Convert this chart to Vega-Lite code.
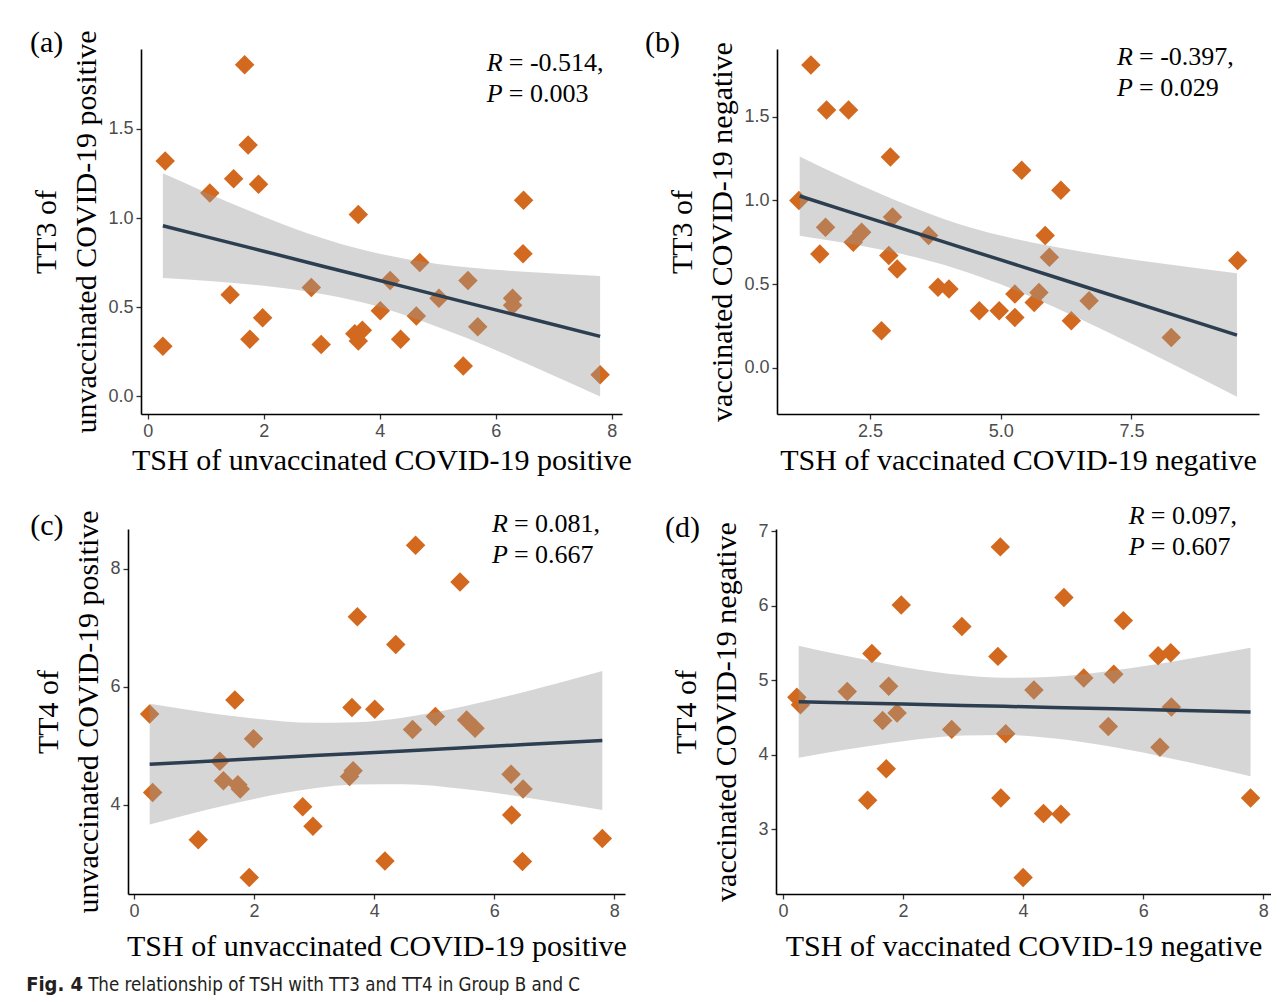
{
  "$schema": "https://vega.github.io/schema/vega-lite/v6.json",
  "background": "white",
  "padding": {"left": 26, "top": 28, "right": 0, "bottom": 0},
  "config": {
    "view": {"stroke": null},
    "axis": {"grid": false, "domainColor": "#000000", "domainWidth": 1.6, "tickColor": "#333333", "tickWidth": 1.3, "tickSize": 5, "labelFont": "Liberation Sans", "labelFontSize": 18, "labelColor": "#4D4D4D", "labelPadding": 3, "titleFont": "Liberation Serif", "titleFontSize": 30, "titleFontWeight": "normal", "titleColor": "#000000", "titleLineHeight": 40},
    "axisY": {"titlePadding": 6}
  },
  "datasets": {
    "ptsA": [
      {"tsh": 1.67, "tt": 1.86}, {"tsh": 1.73, "tt": 1.41}, {"tsh": 0.30, "tt": 1.32}, {"tsh": 1.48, "tt": 1.22}, {"tsh": 1.91, "tt": 1.19},
      {"tsh": 1.07, "tt": 1.14}, {"tsh": 3.63, "tt": 1.02}, {"tsh": 6.48, "tt": 1.10}, {"tsh": 6.47, "tt": 0.80}, {"tsh": 4.69, "tt": 0.75},
      {"tsh": 4.18, "tt": 0.65}, {"tsh": 2.82, "tt": 0.61}, {"tsh": 1.42, "tt": 0.57}, {"tsh": 5.52, "tt": 0.65}, {"tsh": 5.02, "tt": 0.55},
      {"tsh": 6.29, "tt": 0.55}, {"tsh": 6.29, "tt": 0.51}, {"tsh": 4.01, "tt": 0.48}, {"tsh": 1.98, "tt": 0.44}, {"tsh": 4.63, "tt": 0.45},
      {"tsh": 5.69, "tt": 0.39}, {"tsh": 3.70, "tt": 0.37}, {"tsh": 3.57, "tt": 0.35}, {"tsh": 3.63, "tt": 0.31}, {"tsh": 1.76, "tt": 0.32},
      {"tsh": 4.36, "tt": 0.32}, {"tsh": 2.99, "tt": 0.29}, {"tsh": 0.26, "tt": 0.28}, {"tsh": 5.44, "tt": 0.17}, {"tsh": 7.80, "tt": 0.12}
    ],
    "fitA": [
      {"tsh": 0.26, "fit": 0.957, "lo": 0.663, "hi": 1.251}, {"tsh": 1.0, "fit": 0.896, "lo": 0.648, "hi": 1.144},
      {"tsh": 2.0, "fit": 0.814, "lo": 0.620, "hi": 1.008}, {"tsh": 3.0, "fit": 0.731, "lo": 0.574, "hi": 0.888},
      {"tsh": 3.69, "fit": 0.675, "lo": 0.527, "hi": 0.823}, {"tsh": 4.5, "fit": 0.608, "lo": 0.448, "hi": 0.768},
      {"tsh": 5.5, "fit": 0.525, "lo": 0.326, "hi": 0.724}, {"tsh": 6.5, "fit": 0.443, "lo": 0.188, "hi": 0.698},
      {"tsh": 7.8, "fit": 0.336, "lo": -0.002, "hi": 0.674}
    ],
    "annA": [
      {"tsh": 5.845, "tt": 1.826, "sym": "R", "txt": "= -0.514,"},
      {"tsh": 5.845, "tt": 1.652, "sym": "P", "txt": "= 0.003"}
    ],
    "labA": [{"tsh": -2.03, "tt": 1.932, "lab": "(a)"}],
    "ptsB": [
      {"tsh": 1.37, "tt": 1.81}, {"tsh": 1.67, "tt": 1.54}, {"tsh": 2.09, "tt": 1.54}, {"tsh": 2.89, "tt": 1.26}, {"tsh": 5.40, "tt": 1.18},
      {"tsh": 6.15, "tt": 1.06}, {"tsh": 1.14, "tt": 1.00}, {"tsh": 2.93, "tt": 0.90}, {"tsh": 1.65, "tt": 0.84}, {"tsh": 2.18, "tt": 0.75},
      {"tsh": 2.34, "tt": 0.81}, {"tsh": 3.62, "tt": 0.79}, {"tsh": 5.85, "tt": 0.79}, {"tsh": 1.54, "tt": 0.68}, {"tsh": 2.86, "tt": 0.67},
      {"tsh": 5.93, "tt": 0.66}, {"tsh": 3.02, "tt": 0.59}, {"tsh": 3.80, "tt": 0.48}, {"tsh": 4.01, "tt": 0.47}, {"tsh": 5.27, "tt": 0.44},
      {"tsh": 5.73, "tt": 0.45}, {"tsh": 5.64, "tt": 0.39}, {"tsh": 6.69, "tt": 0.40}, {"tsh": 4.59, "tt": 0.34}, {"tsh": 4.97, "tt": 0.34},
      {"tsh": 5.27, "tt": 0.30}, {"tsh": 6.35, "tt": 0.28}, {"tsh": 2.72, "tt": 0.22}, {"tsh": 8.26, "tt": 0.18}, {"tsh": 9.53, "tt": 0.64}
    ],
    "fitB": [
      {"tsh": 1.156, "fit": 1.026, "lo": 0.789, "hi": 1.263}, {"tsh": 2.0, "fit": 0.942, "lo": 0.747, "hi": 1.137},
      {"tsh": 3.0, "fit": 0.843, "lo": 0.687, "hi": 0.999}, {"tsh": 4.18, "fit": 0.725, "lo": 0.589, "hi": 0.861},
      {"tsh": 5.0, "fit": 0.644, "lo": 0.498, "hi": 0.790}, {"tsh": 6.0, "fit": 0.545, "lo": 0.366, "hi": 0.724},
      {"tsh": 7.0, "fit": 0.445, "lo": 0.219, "hi": 0.671}, {"tsh": 8.3, "fit": 0.316, "lo": 0.019, "hi": 0.613},
      {"tsh": 9.517, "fit": 0.195, "lo": -0.174, "hi": 0.564}
    ],
    "annB": [
      {"tsh": 7.223, "tt": 1.809, "sym": "R", "txt": "= -0.397,"},
      {"tsh": 7.223, "tt": 1.624, "sym": "P", "txt": "= 0.029"}
    ],
    "labB": [{"tsh": -1.802, "tt": 1.887, "lab": "(b)"}],
    "ptsC": [
      {"tsh": 4.69, "tt": 8.40}, {"tsh": 5.43, "tt": 7.78}, {"tsh": 3.72, "tt": 7.19}, {"tsh": 4.36, "tt": 6.72}, {"tsh": 1.68, "tt": 5.78},
      {"tsh": 3.63, "tt": 5.65}, {"tsh": 4.01, "tt": 5.62}, {"tsh": 0.26, "tt": 5.54}, {"tsh": 5.02, "tt": 5.50}, {"tsh": 5.54, "tt": 5.44},
      {"tsh": 5.68, "tt": 5.30}, {"tsh": 4.64, "tt": 5.28}, {"tsh": 1.99, "tt": 5.12}, {"tsh": 1.43, "tt": 4.74}, {"tsh": 3.65, "tt": 4.58},
      {"tsh": 3.59, "tt": 4.48}, {"tsh": 6.28, "tt": 4.52}, {"tsh": 1.49, "tt": 4.41}, {"tsh": 1.73, "tt": 4.34}, {"tsh": 1.77, "tt": 4.27},
      {"tsh": 0.31, "tt": 4.21}, {"tsh": 6.48, "tt": 4.27}, {"tsh": 2.81, "tt": 3.97}, {"tsh": 6.29, "tt": 3.83}, {"tsh": 2.98, "tt": 3.64},
      {"tsh": 1.07, "tt": 3.41}, {"tsh": 7.80, "tt": 3.43}, {"tsh": 4.18, "tt": 3.05}, {"tsh": 6.47, "tt": 3.04}, {"tsh": 1.92, "tt": 2.77}
    ],
    "fitC": [
      {"tsh": 0.261, "fit": 4.690, "lo": 3.666, "hi": 5.714}, {"tsh": 1.0, "fit": 4.729, "lo": 3.862, "hi": 5.596},
      {"tsh": 2.0, "fit": 4.783, "lo": 4.101, "hi": 5.465}, {"tsh": 3.0, "fit": 4.836, "lo": 4.281, "hi": 5.391},
      {"tsh": 3.69, "fit": 4.873, "lo": 4.347, "hi": 5.400}, {"tsh": 4.5, "fit": 4.916, "lo": 4.350, "hi": 5.482},
      {"tsh": 5.5, "fit": 4.969, "lo": 4.268, "hi": 5.671}, {"tsh": 6.5, "fit": 5.023, "lo": 4.131, "hi": 5.915},
      {"tsh": 7.8, "fit": 5.092, "lo": 3.915, "hi": 6.269}
    ],
    "annC": [
      {"tsh": 5.962, "tt": 8.626, "sym": "R", "txt": "= 0.081,"},
      {"tsh": 5.962, "tt": 8.101, "sym": "P", "txt": "= 0.667"}
    ],
    "labC": [{"tsh": -1.73, "tt": 8.574, "lab": "(c)"}],
    "ptsD": [
      {"tsh": 3.62, "tt": 6.79}, {"tsh": 4.68, "tt": 6.11}, {"tsh": 1.97, "tt": 6.01}, {"tsh": 5.67, "tt": 5.80}, {"tsh": 2.98, "tt": 5.72},
      {"tsh": 1.48, "tt": 5.36}, {"tsh": 3.58, "tt": 5.32}, {"tsh": 6.25, "tt": 5.33}, {"tsh": 6.46, "tt": 5.37}, {"tsh": 5.51, "tt": 5.08},
      {"tsh": 5.01, "tt": 5.03}, {"tsh": 1.76, "tt": 4.92}, {"tsh": 1.07, "tt": 4.85}, {"tsh": 4.18, "tt": 4.87}, {"tsh": 0.23, "tt": 4.77},
      {"tsh": 0.29, "tt": 4.67}, {"tsh": 6.47, "tt": 4.64}, {"tsh": 1.90, "tt": 4.56}, {"tsh": 1.66, "tt": 4.46}, {"tsh": 5.42, "tt": 4.38},
      {"tsh": 2.81, "tt": 4.34}, {"tsh": 3.71, "tt": 4.28}, {"tsh": 6.28, "tt": 4.10}, {"tsh": 1.72, "tt": 3.81}, {"tsh": 1.41, "tt": 3.39},
      {"tsh": 3.63, "tt": 3.42}, {"tsh": 7.79, "tt": 3.42}, {"tsh": 4.34, "tt": 3.21}, {"tsh": 4.63, "tt": 3.20}, {"tsh": 4.00, "tt": 2.35}
    ],
    "fitD": [
      {"tsh": 0.261, "fit": 4.712, "lo": 3.960, "hi": 5.464}, {"tsh": 1.0, "fit": 4.698, "lo": 4.062, "hi": 5.334},
      {"tsh": 2.0, "fit": 4.680, "lo": 4.181, "hi": 5.179}, {"tsh": 3.0, "fit": 4.662, "lo": 4.257, "hi": 5.067},
      {"tsh": 3.69, "fit": 4.649, "lo": 4.266, "hi": 5.033}, {"tsh": 4.5, "fit": 4.634, "lo": 4.221, "hi": 5.047},
      {"tsh": 5.5, "fit": 4.616, "lo": 4.102, "hi": 5.130}, {"tsh": 6.5, "fit": 4.598, "lo": 3.944, "hi": 5.252},
      {"tsh": 7.789, "fit": 4.574, "lo": 3.711, "hi": 5.437}
    ],
    "annD": [
      {"tsh": 5.762, "tt": 7.098, "sym": "R", "txt": "= 0.097,"},
      {"tsh": 5.762, "tt": 6.683, "sym": "P", "txt": "= 0.607"}
    ],
    "labD": [{"tsh": -1.966, "tt": 6.922, "lab": "(d)"}]
  },
  "title": {"text": "The relationship of TSH with TT3 and TT4 in Group B and C", "orient": "bottom", "anchor": "start", "frame": "bounds", "font": "Liberation Sans Narrow, DejaVu Sans Condensed, sans-serif", "fontSize": 18.6, "fontWeight": "normal", "color": "#231F20", "baseline": "top", "dx": 62, "dy": -19, "offset": 0},
  "columns": 1,
  "align": "none",
  "spacing": 27,
  "concat": [
    {
      "spacing": 12,
      "hconcat": [
        {
          "width": 494, "height": 365,
          "layer": [
            {"data": {"name": "ptsA"}, "mark": {"type": "point", "shape": "diamond", "filled": true, "size": 380, "color": "#D2691E", "opacity": 1},
             "encoding": {
               "x": {"field": "tsh", "type": "quantitative", "scale": {"domain": [-0.117, 8.177], "range": [13, 494], "nice": false, "zero": false}, "axis": {"values": [0, 2, 4, 6, 8], "format": "d", "titlePadding": 5, "title": "TSH of unvaccinated COVID-19 positive"}},
               "y": {"field": "tt", "type": "quantitative", "scale": {"domain": [-0.1, 1.949], "nice": false, "zero": false}, "axis": {"values": [0, 0.5, 1, 1.5], "format": ".1f", "offset": -13, "title": ["TT3 of", "unvaccinated COVID-19 positive"]}}}},
            {"data": {"name": "fitA"}, "mark": {"type": "area", "color": "#999999", "opacity": 0.4, "interpolate": "monotone"},
             "encoding": {"x": {"field": "tsh", "type": "quantitative"}, "y": {"field": "lo", "type": "quantitative"}, "y2": {"field": "hi"}}},
            {"data": {"name": "fitA"}, "mark": {"type": "line", "color": "#2C3E50", "strokeWidth": 3.5},
             "encoding": {"x": {"field": "tsh", "type": "quantitative"}, "y": {"field": "fit", "type": "quantitative"}}},
            {"data": {"name": "annA"}, "mark": {"type": "text", "font": "Liberation Serif", "fontStyle": "italic", "fontSize": 26, "align": "left", "baseline": "alphabetic", "color": "#000000"},
             "encoding": {"x": {"field": "tsh", "type": "quantitative"}, "y": {"field": "tt", "type": "quantitative"}, "text": {"field": "sym"}}},
            {"data": {"name": "annA"}, "mark": {"type": "text", "font": "Liberation Serif", "fontSize": 26, "align": "left", "baseline": "alphabetic", "dx": 22, "color": "#000000"},
             "encoding": {"x": {"field": "tsh", "type": "quantitative"}, "y": {"field": "tt", "type": "quantitative"}, "text": {"field": "txt"}}},
            {"data": {"name": "labA"}, "mark": {"type": "text", "font": "Liberation Serif", "fontSize": 30, "align": "left", "baseline": "alphabetic", "color": "#000000"},
             "encoding": {"x": {"field": "tsh", "type": "quantitative"}, "y": {"field": "tt", "type": "quantitative"}, "text": {"field": "lab"}}}
          ]
        },
        {
          "width": 482, "height": 365,
          "layer": [
            {"data": {"name": "ptsB"}, "mark": {"type": "point", "shape": "diamond", "filled": true, "size": 380, "color": "#D2691E", "opacity": 1},
             "encoding": {
               "x": {"field": "tsh", "type": "quantitative", "scale": {"domain": [0.722, 9.938], "nice": false, "zero": false}, "axis": {"values": [2.5, 5, 7.5], "format": ".1f", "titlePadding": 5, "title": "TSH of vaccinated COVID-19 negative"}},
               "y": {"field": "tt", "type": "quantitative", "scale": {"domain": [-0.277, 1.905], "nice": false, "zero": false}, "axis": {"values": [0, 0.5, 1, 1.5], "format": ".1f", "title": ["TT3 of", "vaccinated COVID-19 negative"]}}}},
            {"data": {"name": "fitB"}, "mark": {"type": "area", "color": "#999999", "opacity": 0.4, "interpolate": "monotone"},
             "encoding": {"x": {"field": "tsh", "type": "quantitative"}, "y": {"field": "lo", "type": "quantitative"}, "y2": {"field": "hi"}}},
            {"data": {"name": "fitB"}, "mark": {"type": "line", "color": "#2C3E50", "strokeWidth": 3.5},
             "encoding": {"x": {"field": "tsh", "type": "quantitative"}, "y": {"field": "fit", "type": "quantitative"}}},
            {"data": {"name": "annB"}, "mark": {"type": "text", "font": "Liberation Serif", "fontStyle": "italic", "fontSize": 26, "align": "left", "baseline": "alphabetic", "color": "#000000"},
             "encoding": {"x": {"field": "tsh", "type": "quantitative"}, "y": {"field": "tt", "type": "quantitative"}, "text": {"field": "sym"}}},
            {"data": {"name": "annB"}, "mark": {"type": "text", "font": "Liberation Serif", "fontSize": 26, "align": "left", "baseline": "alphabetic", "dx": 22, "color": "#000000"},
             "encoding": {"x": {"field": "tsh", "type": "quantitative"}, "y": {"field": "tt", "type": "quantitative"}, "text": {"field": "txt"}}},
            {"data": {"name": "labB"}, "mark": {"type": "text", "font": "Liberation Serif", "fontSize": 30, "align": "left", "baseline": "alphabetic", "color": "#000000"},
             "encoding": {"x": {"field": "tsh", "type": "quantitative"}, "y": {"field": "tt", "type": "quantitative"}, "text": {"field": "lab"}}}
          ]
        }
      ]
    },
    {
      "spacing": 38,
      "title": {"text": "Fig. 4", "orient": "bottom", "anchor": "start", "frame": "bounds", "font": "Liberation Sans Narrow, DejaVu Sans Condensed, sans-serif", "fontSize": 20, "fontWeight": "bold", "color": "#231F20", "baseline": "top", "dx": -4, "offset": 14},
      "hconcat": [
        {
          "width": 497, "height": 365,
          "layer": [
            {"data": {"name": "ptsC"}, "mark": {"type": "point", "shape": "diamond", "filled": true, "size": 380, "color": "#D2691E", "opacity": 1},
             "encoding": {
               "x": {"field": "tsh", "type": "quantitative", "scale": {"domain": [-0.1, 8.178], "nice": false, "zero": false}, "axis": {"values": [0, 2, 4, 6, 8], "format": "d", "titlePadding": 11, "title": "TSH of unvaccinated COVID-19 positive"}},
               "y": {"field": "tt", "type": "quantitative", "scale": {"domain": [2.49, 8.677], "nice": false, "zero": false}, "axis": {"values": [4, 6, 8], "format": "d", "title": ["TT4 of", "unvaccinated COVID-19 positive"]}}}},
            {"data": {"name": "fitC"}, "mark": {"type": "area", "color": "#999999", "opacity": 0.4, "interpolate": "monotone"},
             "encoding": {"x": {"field": "tsh", "type": "quantitative"}, "y": {"field": "lo", "type": "quantitative"}, "y2": {"field": "hi"}}},
            {"data": {"name": "fitC"}, "mark": {"type": "line", "color": "#2C3E50", "strokeWidth": 3.5},
             "encoding": {"x": {"field": "tsh", "type": "quantitative"}, "y": {"field": "fit", "type": "quantitative"}}},
            {"data": {"name": "annC"}, "mark": {"type": "text", "font": "Liberation Serif", "fontStyle": "italic", "fontSize": 26, "align": "left", "baseline": "alphabetic", "color": "#000000"},
             "encoding": {"x": {"field": "tsh", "type": "quantitative"}, "y": {"field": "tt", "type": "quantitative"}, "text": {"field": "sym"}}},
            {"data": {"name": "annC"}, "mark": {"type": "text", "font": "Liberation Serif", "fontSize": 26, "align": "left", "baseline": "alphabetic", "dx": 22, "color": "#000000"},
             "encoding": {"x": {"field": "tsh", "type": "quantitative"}, "y": {"field": "tt", "type": "quantitative"}, "text": {"field": "txt"}}},
            {"data": {"name": "labC"}, "mark": {"type": "text", "font": "Liberation Serif", "fontSize": 30, "align": "left", "baseline": "alphabetic", "color": "#000000"},
             "encoding": {"x": {"field": "tsh", "type": "quantitative"}, "y": {"field": "tt", "type": "quantitative"}, "text": {"field": "lab"}}}
          ]
        },
        {
          "width": 495, "height": 365,
          "layer": [
            {"data": {"name": "ptsD"}, "mark": {"type": "point", "shape": "diamond", "filled": true, "size": 380, "color": "#D2691E", "opacity": 1},
             "encoding": {
               "x": {"field": "tsh", "type": "quantitative", "scale": {"domain": [-0.117, 8.13], "nice": false, "zero": false}, "axis": {"values": [0, 2, 4, 6, 8], "format": "d", "titlePadding": 11, "title": "TSH of vaccinated COVID-19 negative"}},
               "y": {"field": "tt", "type": "quantitative", "scale": {"domain": [2.13, 7.03], "nice": false, "zero": false}, "axis": {"values": [3, 4, 5, 6, 7], "format": "d", "titlePadding": 16, "title": ["TT4 of", "vaccinated COVID-19 negative"]}}}},
            {"data": {"name": "fitD"}, "mark": {"type": "area", "color": "#999999", "opacity": 0.4, "interpolate": "monotone"},
             "encoding": {"x": {"field": "tsh", "type": "quantitative"}, "y": {"field": "lo", "type": "quantitative"}, "y2": {"field": "hi"}}},
            {"data": {"name": "fitD"}, "mark": {"type": "line", "color": "#2C3E50", "strokeWidth": 3.5},
             "encoding": {"x": {"field": "tsh", "type": "quantitative"}, "y": {"field": "fit", "type": "quantitative"}}},
            {"data": {"name": "annD"}, "mark": {"type": "text", "font": "Liberation Serif", "fontStyle": "italic", "fontSize": 26, "align": "left", "baseline": "alphabetic", "color": "#000000"},
             "encoding": {"x": {"field": "tsh", "type": "quantitative"}, "y": {"field": "tt", "type": "quantitative"}, "text": {"field": "sym"}}},
            {"data": {"name": "annD"}, "mark": {"type": "text", "font": "Liberation Serif", "fontSize": 26, "align": "left", "baseline": "alphabetic", "dx": 22, "color": "#000000"},
             "encoding": {"x": {"field": "tsh", "type": "quantitative"}, "y": {"field": "tt", "type": "quantitative"}, "text": {"field": "txt"}}},
            {"data": {"name": "labD"}, "mark": {"type": "text", "font": "Liberation Serif", "fontSize": 30, "align": "left", "baseline": "alphabetic", "color": "#000000"},
             "encoding": {"x": {"field": "tsh", "type": "quantitative"}, "y": {"field": "tt", "type": "quantitative"}, "text": {"field": "lab"}}}
          ]
        }
      ]
    }
  ]
}
